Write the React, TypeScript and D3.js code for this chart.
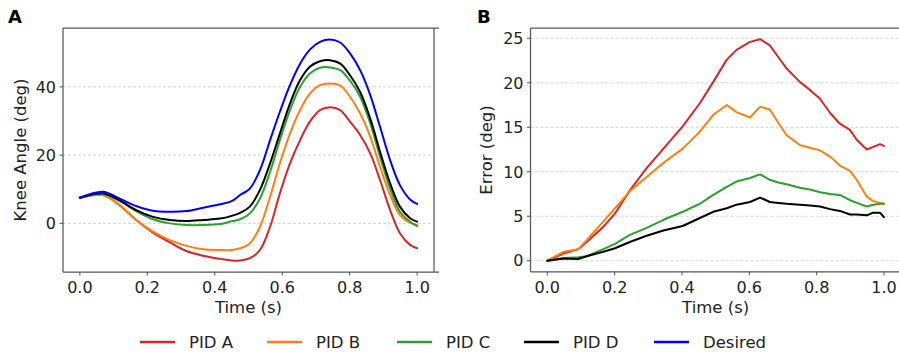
import React from "react";
import * as d3 from "d3";

// ---------- Data ----------
const timeA = [0, 0.068, 0.117, 0.167, 0.217, 0.267, 0.316, 0.366, 0.416, 0.45, 0.475, 0.504, 0.534, 0.564, 0.593, 0.623, 0.653, 0.682, 0.712, 0.742, 0.772, 0.801, 0.831, 0.861, 0.89, 0.92, 0.949, 0.979, 1.0];
const angleDesired = [7.5, 9.25, 7.3, 5.1, 3.7, 3.4, 3.6, 4.6, 5.6, 6.5, 8.3, 10.2, 15.6, 24.4, 32.7, 40.5, 46.8, 50.9, 53.2, 53.9, 53.0, 49.8, 44.9, 37.6, 28.3, 18.5, 11.2, 7.0, 5.7];
const anglePidD = [7.5, 8.8, 6.8, 3.9, 1.9, 1.0, 0.7, 1.0, 1.4, 2.2, 3.1, 4.9, 9.8, 17.6, 26.3, 35.1, 42.0, 45.9, 47.5, 47.8, 46.8, 43.4, 38.5, 30.7, 21.0, 11.7, 4.9, 1.5, 0.5];
const anglePidC = [7.5, 8.6, 6.6, 3.6, 1.2, 0.0, -0.5, -0.5, -0.2, 0.6, 1.2, 2.9, 7.3, 15.1, 24.4, 33.2, 40.0, 43.9, 45.6, 45.7, 44.9, 41.8, 37.1, 29.3, 19.5, 10.2, 3.4, 0.5, -0.8];
const anglePidB = [7.5, 8.3, 5.4, 1.0, -2.4, -4.9, -6.6, -7.6, -7.8, -7.8, -7.3, -5.9, -1.0, 7.8, 17.6, 26.3, 33.2, 38.0, 40.5, 41.0, 40.4, 37.1, 32.2, 25.4, 16.6, 8.3, 2.4, 0.2, -0.5];
const anglePidA = [7.5, 8.3, 5.4, 1.0, -2.7, -5.6, -8.1, -9.5, -10.4, -10.9, -10.9, -10.2, -7.8, -1.0, 8.8, 17.6, 24.4, 29.8, 33.2, 34.0, 33.2, 29.8, 25.9, 20.5, 12.7, 3.9, -2.9, -6.3, -7.3];

const timeB = [0, 0.048, 0.092, 0.117, 0.166, 0.201, 0.245, 0.295, 0.345, 0.402, 0.453, 0.493, 0.533, 0.562, 0.602, 0.632, 0.661, 0.686, 0.711, 0.75, 0.78, 0.81, 0.84, 0.869, 0.899, 0.919, 0.949, 0.968, 0.988, 1.0];
const errPidA = [0, 0.8, 1.3, 2.1, 3.8, 5.3, 7.9, 10.4, 12.6, 15.1, 17.7, 20.1, 22.6, 23.7, 24.6, 24.9, 24.2, 22.9, 21.6, 20.1, 19.2, 18.2, 16.6, 15.4, 14.7, 13.6, 12.5, 12.8, 13.1, 12.9];
const errPidB = [0, 1.0, 1.3, 2.3, 4.4, 5.9, 7.8, 9.4, 11.0, 12.6, 14.5, 16.4, 17.5, 16.7, 16.1, 17.3, 17.0, 15.5, 14.1, 13.0, 12.7, 12.4, 11.7, 10.7, 10.1, 9.1, 7.2, 6.7, 6.5, 6.4];
const errPidC = [0, 0.3, 0.4, 0.5, 1.3, 1.9, 2.9, 3.7, 4.6, 5.5, 6.4, 7.4, 8.3, 8.9, 9.3, 9.7, 9.1, 8.8, 8.6, 8.2, 8.0, 7.7, 7.5, 7.4, 6.8, 6.5, 6.1, 6.3, 6.4, 6.4];
const errPidD = [0, 0.26, 0.2, 0.5, 1.0, 1.4, 2.1, 2.8, 3.4, 3.9, 4.8, 5.5, 5.9, 6.3, 6.6, 7.1, 6.6, 6.5, 6.4, 6.3, 6.2, 6.1, 5.8, 5.6, 5.2, 5.2, 5.1, 5.4, 5.4, 4.9];

const xTicks = [0, 0.2, 0.4, 0.6, 0.8, 1.0];
const yTicksA = [0, 20, 40];
const yTicksB = [0, 5, 10, 15, 20, 25];

const seriesNames = ["PID A", "PID B", "PID C", "PID D", "Desired"];
const seriesColors = ["#d62728", "#ff7f0e", "#2ca02c", "#000000", "#0000ff"];

const FONT = "DejaVu Sans, Liberation Sans, sans-serif";

type PanelProps = {
  left: number; right: number; top: number; bottom: number;
  xDomain: [number, number]; yDomain: [number, number];
  yTicks: number[]; ylabel: string; ylabelX: number; letter: string; letterX: number;
  series: { t: number[]; v: number[]; color: string }[];
  curve: d3.CurveFactory;
  showRight: boolean;
};

function Panel(p: PanelProps) {
  const x = d3.scaleLinear().domain(p.xDomain).range([p.left, p.right]);
  const y = d3.scaleLinear().domain(p.yDomain).range([p.bottom, p.top]);
  const clipId = "clip-" + p.letter;
  const axisColor = "#555";
  const textColor = "#222";
  const visRight = Math.min(p.right, 899);
  return (
    <g>
      <defs>
        <clipPath id={clipId}>
          <rect x={p.left} y={p.top} width={p.right - p.left} height={p.bottom - p.top} />
        </clipPath>
      </defs>
      {p.yTicks.map((t) => (
        <line key={"g" + t} x1={p.left} x2={p.right} y1={y(t)} y2={y(t)}
          stroke="#c8c8c8" strokeWidth={0.8} strokeDasharray="3,2" />
      ))}
      <g clipPath={`url(#${clipId})`}>
        {p.series.map((s, i) => {
          const line = d3.line<number>()
            .x((_, j) => x(s.t[j]))
            .y((d) => y(d))
            .curve(p.curve);
          return <path key={i} d={line(s.v) || ""} fill="none" stroke={s.color}
            strokeWidth={2} strokeLinejoin="round" strokeLinecap="round" />;
        })}
      </g>
      {/* spines */}
      <line x1={p.left} x2={p.left} y1={p.top} y2={p.bottom} stroke={axisColor} strokeWidth={1.25} />
      <line x1={p.left} x2={visRight + 5} y1={p.bottom} y2={p.bottom} stroke={axisColor} strokeWidth={1.25} />
      <line x1={p.left} x2={visRight + 5} y1={p.top} y2={p.top} stroke={axisColor} strokeWidth={1.25} />
      {p.showRight && (
        <line x1={p.right} x2={p.right} y1={p.top} y2={p.bottom} stroke={axisColor} strokeWidth={1.25} />
      )}
      {xTicks.map((t) => (
        <g key={"x" + t}>
          <line x1={x(t)} x2={x(t)} y1={p.bottom} y2={p.bottom + 3.5} stroke={axisColor} strokeWidth={1} />
          <text x={x(t)} y={p.bottom + 21} textAnchor="middle" fontSize={16} fill={textColor} fontFamily={FONT}>
            {t.toFixed(1)}
          </text>
        </g>
      ))}
      {p.yTicks.map((t) => (
        <g key={"y" + t}>
          <line x1={p.left - 3.5} x2={p.left} y1={y(t)} y2={y(t)} stroke={axisColor} strokeWidth={1} />
          <text x={p.left - 7} y={y(t)} dy="0.36em" textAnchor="end" fontSize={16} fill={textColor} fontFamily={FONT}>
            {t}
          </text>
        </g>
      ))}
      <text x={(p.left + p.right) / 2} y={313} textAnchor="middle" fontSize={16.5} fill={textColor} fontFamily={FONT}>
        Time (s)
      </text>
      <text transform={`translate(${p.ylabelX},${(p.top + p.bottom) / 2}) rotate(-90)`} textAnchor="middle"
        fontSize={16.5} fill={textColor} fontFamily={FONT}>
        {p.ylabel}
      </text>
      <text x={p.letterX} y={23} fontSize={18} fontWeight="bold" fill="#000" fontFamily={FONT}>
        {p.letter}
      </text>
    </g>
  );
}

export default function App() {
  const seriesA = [
    { t: timeA, v: anglePidA, color: seriesColors[0] },
    { t: timeA, v: anglePidB, color: seriesColors[1] },
    { t: timeA, v: anglePidC, color: seriesColors[2] },
    { t: timeA, v: anglePidD, color: seriesColors[3] },
    { t: timeA, v: angleDesired, color: seriesColors[4] },
  ];
  const seriesB = [
    { t: timeB, v: errPidA, color: seriesColors[0] },
    { t: timeB, v: errPidB, color: seriesColors[1] },
    { t: timeB, v: errPidC, color: seriesColors[2] },
    { t: timeB, v: errPidD, color: seriesColors[3] },
  ];
  const legendX = [140, 267, 397, 524, 654];
  return (
    <svg width={899} height={357} style={{ position: "absolute", left: 0, top: 0, background: "#fff" }}>
      <rect x={0} y={0} width={899} height={357} fill="#fff" />
      <Panel left={63} right={434} top={28} bottom={272}
        xDomain={[-0.05, 1.05]} yDomain={[-14.25, 57.25]} yTicks={yTicksA}
        ylabel="Knee Angle (deg)" ylabelX={26} letter="A" letterX={8}
        series={seriesA} curve={d3.curveCatmullRom.alpha(0.5)} showRight={true} />
      <Panel left={530.5} right={900.8} top={28.1} bottom={271.8}
        xDomain={[-0.05, 1.05]} yDomain={[-1.245, 26.145]} yTicks={yTicksB}
        ylabel="Error (deg)" ylabelX={492} letter="B" letterX={477}
        series={seriesB} curve={d3.curveLinear} showRight={false} />
      {seriesNames.map((name, i) => (
        <g key={name}>
          <line x1={legendX[i]} x2={legendX[i] + 35} y1={342} y2={342} stroke={seriesColors[i]} strokeWidth={2.5} />
          <text x={legendX[i] + 49} y={348} fontSize={16.5} fill="#222" fontFamily={FONT}>{name}</text>
        </g>
      ))}
    </svg>
  );
}
